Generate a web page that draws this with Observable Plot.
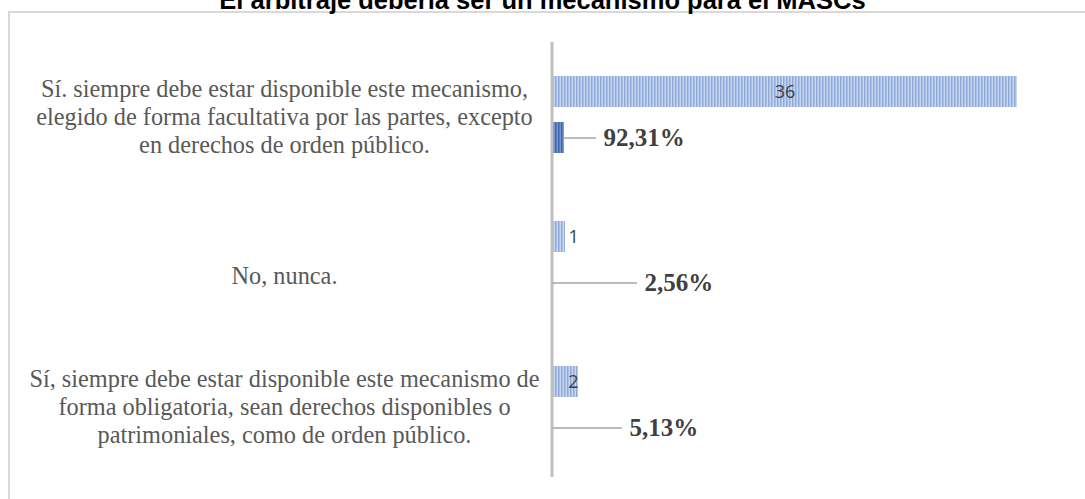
<!DOCTYPE html>
<html>
<head>
<meta charset="utf-8">
<script src="https://cdn.jsdelivr.net/npm/d3@7"></script>
<script src="https://cdn.jsdelivr.net/npm/@observablehq/plot@0.6"></script>
<style>
  html, body { margin: 0; padding: 0; background: #fff; overflow: hidden; }
  #wrap { position: relative; width: 1085px; height: 499px; overflow: hidden; }
  #frame { position: absolute; left: 8px; top: 11px; width: 1200px; height: 700px; border: 2px solid #d9d9d9; box-sizing: border-box; }
  #title { position: absolute; left: 0; width: 1085px; top: -12px; text-align: center; font: bold 25.5px/25.5px "Liberation Sans", Arial, sans-serif; color: #000; white-space: nowrap; }
  #chart { position: absolute; left: 0; top: 0; }
</style>
</head>
<body>
<div id="wrap">
  <div id="frame"></div>
  <div id="title">El arbitraje debería ser un mecanismo para el MASCs</div>
  <div id="chart"></div>
</div>
<script>
const categories = [
  "Sí. siempre debe estar disponible este mecanismo,\nelegido de forma facultativa por las partes, excepto\nen derechos de orden público.",
  "No, nunca.",
  "Sí, siempre debe estar disponible este mecanismo de\nforma obligatoria, sean derechos disponibles o\npatrimoniales, como de orden público."
];
const counts = [36, 1, 2];
const shares = [0.9231, 0.0256, 0.0513];
const shareLabels = ["92,31%", "2,56%", "5,13%"];

const rows = categories.map((c, i) => ({cat: c, count: counts[i], share: shares[i], label: shareLabels[i], i}));

// layout: leader line ends (in x units) per category
const leaderEnd = [3.41, 6.58, 5.42];

const serif = "'Liberation Serif', 'Times New Roman', serif";
const sans = "'Open Sans', 'Liberation Sans', sans-serif";

const svg = Plot.plot({
  width: 1085,
  height: 499,
  marginLeft: 552,
  marginRight: 68,
  marginTop: 41,
  marginBottom: 21.5,
  style: {background: "transparent", overflow: "visible"},
  x: {domain: [0, 36], axis: null},
  y: {domain: ["count", "pct"], paddingInner: 0.333, paddingOuter: 0.731, axis: null},
  fy: {domain: categories, padding: 0, axis: null},
  marks: [
    Plot.barX(rows, {fy: "cat", y: () => "count", x: "count", fill: "url(#stripeLight)"}),
    Plot.barX(rows, {fy: "cat", y: () => "pct", x: "share", fill: "url(#stripeDark)"}),
    Plot.ruleX([0], {stroke: "#bfbfbf", strokeWidth: 3, dx: -0.5}),
    // leader lines
    Plot.ruleY(rows, {fy: "cat", y: () => "pct", x1: "share", x2: d => leaderEnd[d.i], stroke: "#a6a6a6", strokeWidth: 1.5}),
    // percent labels
    Plot.text(rows, {fy: "cat", y: () => "pct", x: d => leaderEnd[d.i], text: "label", textAnchor: "start", dx: 7, fontSize: 25, fontWeight: "bold", fontFamily: serif, fill: "#404040"}),
    // count labels
    Plot.text(rows.filter(d => d.i === 0), {fy: "cat", y: () => "count", x: d => d.count / 2, text: d => String(d.count), textAnchor: "middle", fontSize: 18, fontFamily: sans, fill: "#404040"}),
    Plot.text(rows.filter(d => d.i === 1), {fy: "cat", y: () => "count", x: "count", text: d => String(d.count), textAnchor: "start", dx: 3, fontSize: 18, fontFamily: sans, fill: "#404040"}),
    Plot.text(rows.filter(d => d.i === 2), {fy: "cat", y: () => "count", x: "count", text: d => String(d.count), textAnchor: "start", dx: -10, fontSize: 18, fontFamily: sans, fill: "#404040"}),
    // category labels
    Plot.text(rows.filter(d => d.i !== 1), {fy: "cat", text: "cat", frameAnchor: "left", dx: -268, dy: 1, textAnchor: "middle", lineHeight: 1.14, fontSize: 24.3, fontFamily: serif, fill: "#595959"}),
    Plot.text(rows.filter(d => d.i === 1), {fy: "cat", text: "cat", frameAnchor: "left", dx: -268, dy: 16, textAnchor: "middle", fontSize: 24.3, fontFamily: serif, fill: "#595959"})
  ]
});

const defs = d3.select(svg).insert("defs", ":first-child");
const p1 = defs.append("pattern").attr("id", "stripeLight").attr("patternUnits", "userSpaceOnUse").attr("width", 3).attr("height", 10);
p1.append("rect").attr("width", 3).attr("height", 10).attr("fill", "#c8d6ef");
p1.append("rect").attr("width", 1.5).attr("height", 10).attr("fill", "#8eaadb");
const p2 = defs.append("pattern").attr("id", "stripeDark").attr("patternUnits", "userSpaceOnUse").attr("width", 3).attr("height", 10);
p2.append("rect").attr("width", 3).attr("height", 10).attr("fill", "#7596cf");
p2.append("rect").attr("width", 1.5).attr("height", 10).attr("fill", "#3d66ab");

document.getElementById("chart").appendChild(svg);
</script>
</body>
</html>
